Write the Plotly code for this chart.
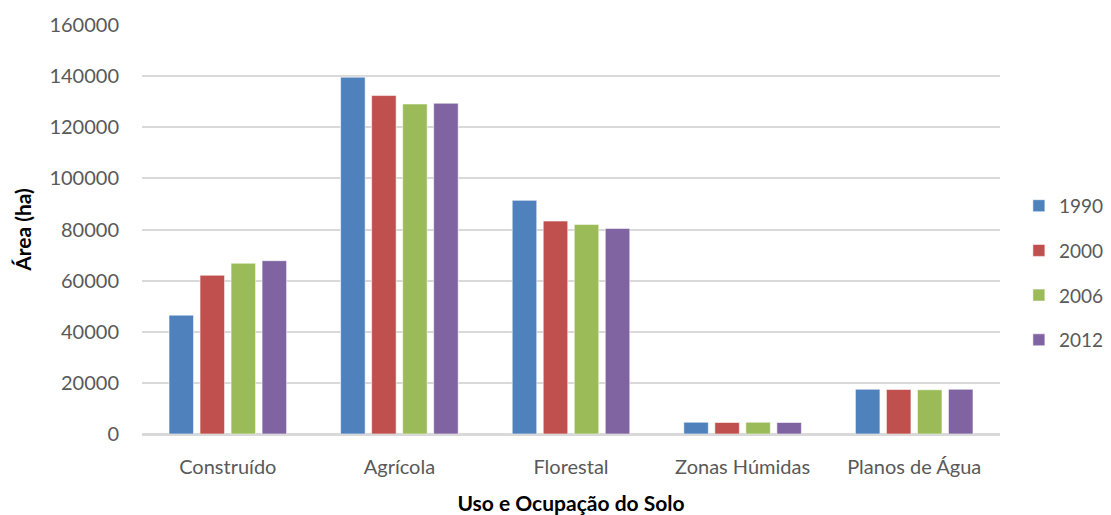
import plotly.graph_objects as go

# Land use / land cover area by class and year
categories = ["Construído", "Agrícola", "Florestal", "Zonas Húmidas", "Planos de Água"]
years = ["1990", "2000", "2006", "2012"]
area_1990 = [46500, 139600, 91400, 4600, 17500]
area_2000 = [62100, 132400, 83300, 4500, 17400]
area_2006 = [66800, 129100, 82000, 4600, 17300]
area_2012 = [67800, 129400, 80400, 4500, 17500]
series = [area_1990, area_2000, area_2006, area_2012]
colors = ["#4F81BD", "#C0504D", "#9BBB59", "#8064A2"]

FONT = "Lato, 'Open Sans', sans-serif"
TICK_COLOR = "#595959"
GRID = "#d9d9d9"

fig = go.Figure()
for year, values, color in zip(years, series, colors):
    fig.add_trace(go.Bar(
        x=categories, y=values, name=year, legendgroup=year,
        marker=dict(color=color, line=dict(color="rgba(255,255,255,0.55)", width=1)),
    ))

fig.update_layout(
    width=1111, height=515,
    margin=dict(l=142, r=111, t=25, b=81, autoexpand=False),
    paper_bgcolor="white", plot_bgcolor="white",
    barmode="group", bargap=0.277, bargroupgap=0.21,
    font=dict(family=FONT, size=20, color=TICK_COLOR),
    legend=dict(
        x=1.022, xanchor="left", y=0.394, yanchor="middle",
        font=dict(family=FONT, size=19, color=TICK_COLOR),
        tracegroupgap=17, itemwidth=30,
    ),
    xaxis=dict(
        showgrid=False, showline=True, linecolor=GRID, linewidth=2,
        ticks="", ticklabelstandoff=14,
        tickfont=dict(family=FONT, size=20, color=TICK_COLOR),
        title=dict(text="<b>Uso e Ocupação do Solo</b>", standoff=20,
                   font=dict(family=FONT, size=21, color="black")),
    ),
    yaxis=dict(
        range=[0, 160000], dtick=20000, tickformat="d",
        showgrid=True, gridcolor=GRID, gridwidth=2,
        zeroline=True, zerolinecolor=GRID, zerolinewidth=2,
        ticks="", ticklabelstandoff=22,
        tickfont=dict(family=FONT, size=20, color=TICK_COLOR),
        title=dict(text="<b>Área (ha)</b>", standoff=12,
                   font=dict(family=FONT, size=21, color="black")),
    ),
)

fig.write_html("out.html")
